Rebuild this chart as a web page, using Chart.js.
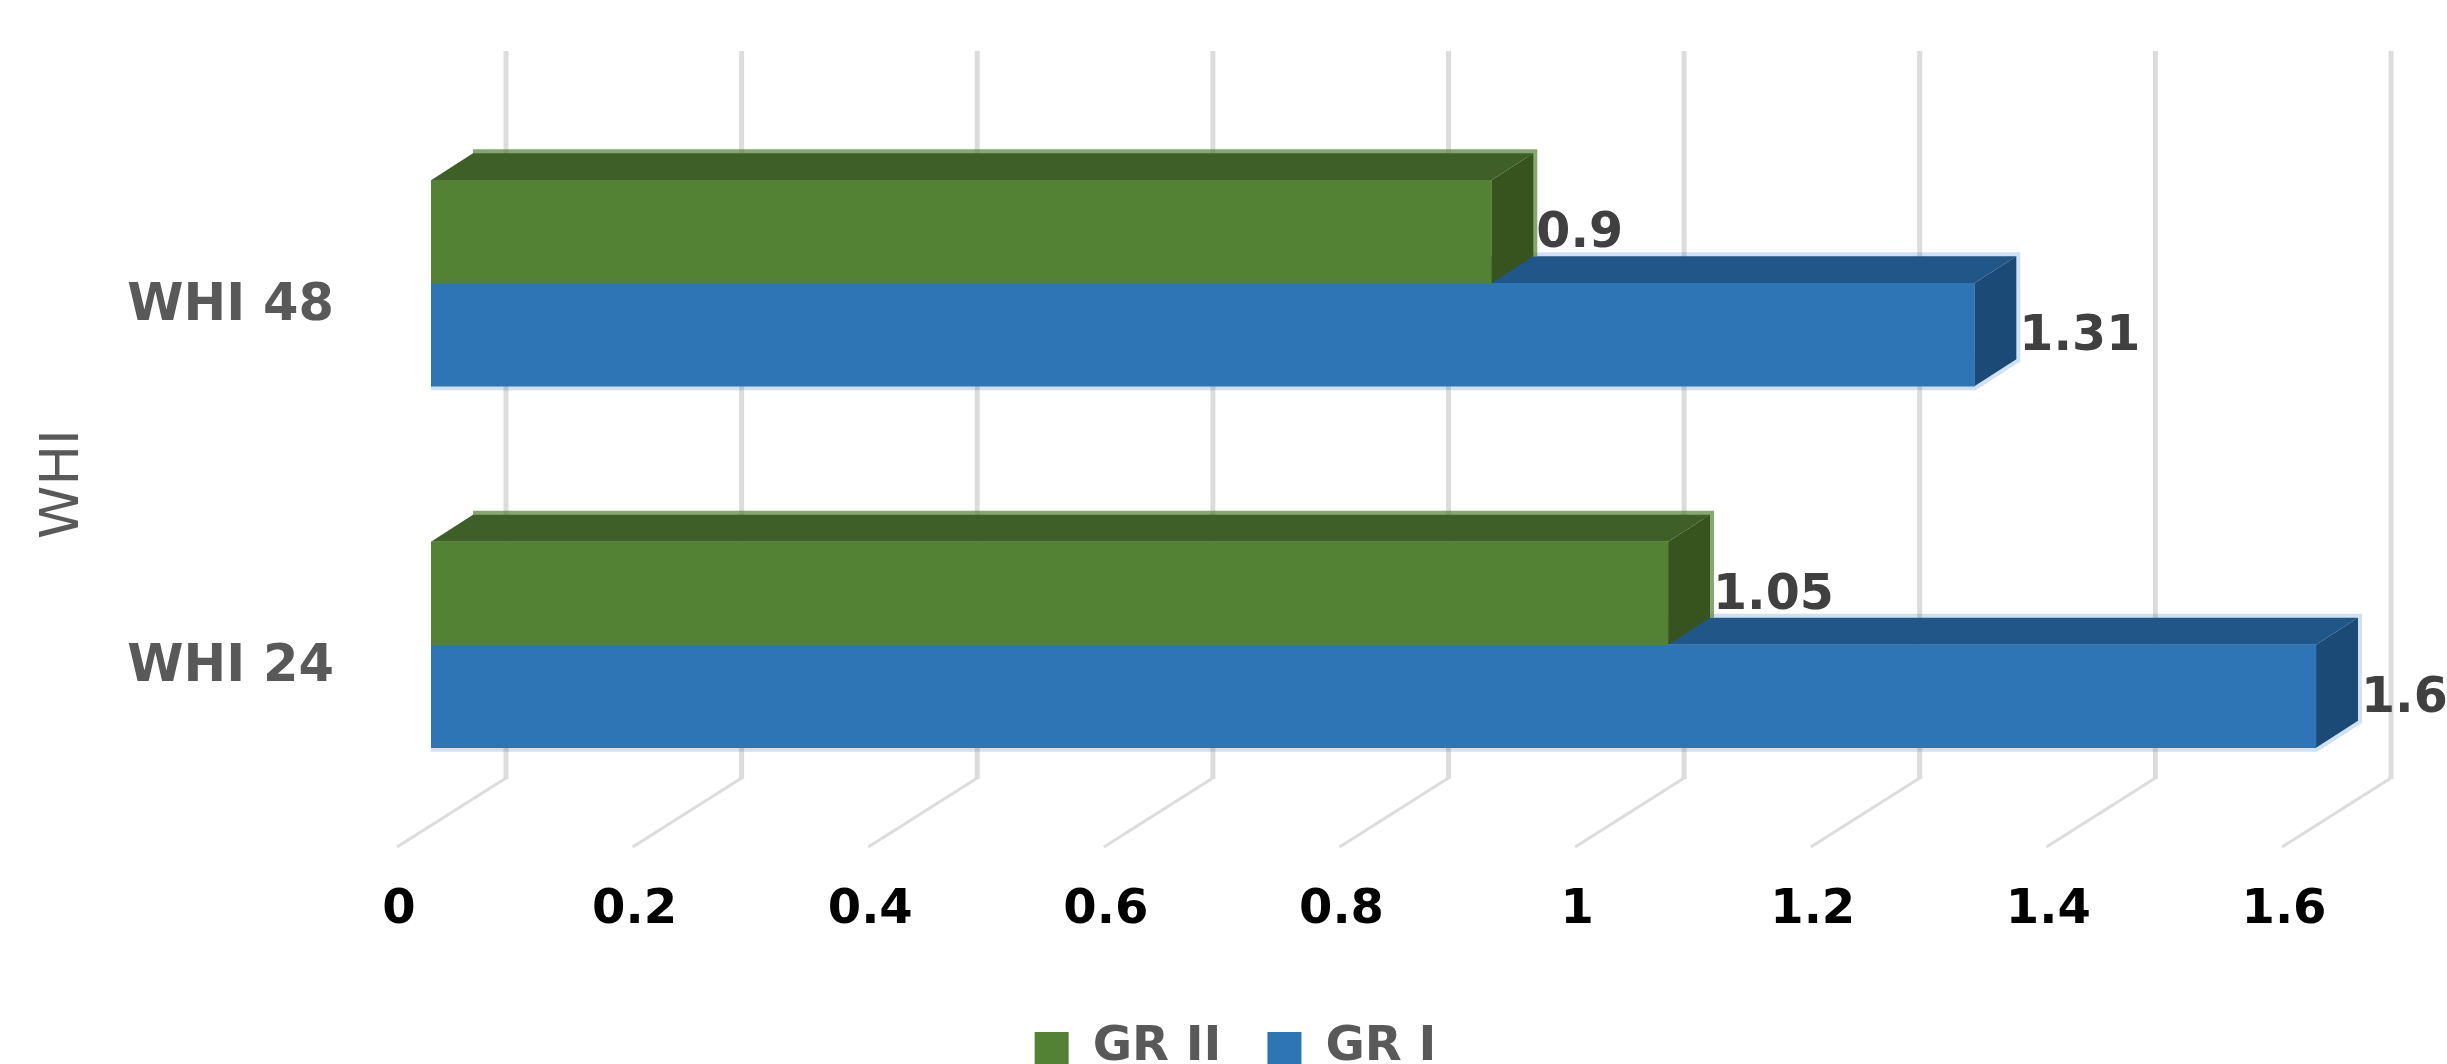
<!DOCTYPE html>
<html>
<head>
<meta charset="utf-8">
<title>WHI</title>
<script src="https://cdn.jsdelivr.net/npm/chart.js@4"></script>
<style>
  html, body { margin: 0; padding: 0; background: #fff; }
  canvas { display: block; }
</style>
</head>
<body>
<canvas id="whiChart" width="2447" height="1064"></canvas>
<script>
var categories = ['WHI 48', 'WHI 24'];
var grTwoValues = [0.9, 1.05];
var grOneValues = [1.31, 1.6];
var xTickValues = [0, 0.2, 0.4, 0.6, 0.8, 1, 1.2, 1.4, 1.6];
var xTickLabels = ['0', '0.2', '0.4', '0.6', '0.8', '1', '1.2', '1.4', '1.6'];

// 3d look, the same offsets the original chart uses
var depthX = 42;
var depthY = 27;
var faces = [
    { top: '#3f5f28', side: '#37541f', halo: 'rgba(84,130,53,0.7)', closed: false },
    { top: '#215788', side: '#1c4a76', halo: 'rgba(46,117,182,0.22)', closed: true }
];

var walls = {
    id: 'walls',
    beforeDatasetsDraw: function(chart) {
        var ctx = chart.ctx;
        var x = chart.scales.x;
        ctx.save();
        ctx.strokeStyle = '#dcdcdc';
        x.ticks.forEach(function(t, i) {
            var px = x.getPixelForTick(i) + 75;
            ctx.lineWidth = 5;
            ctx.beginPath();
            ctx.moveTo(px, 51);
            ctx.lineTo(px, 779);
            ctx.stroke();
            ctx.lineWidth = 3;
            ctx.beginPath();
            ctx.moveTo(px, 778);
            ctx.lineTo(px - 109, 847);
            ctx.stroke();
        });

        // blue first, green side face sits on top of it
        for (var d = 1; d >= 0; d--) {
            var f = faces[d];
            chart.getDatasetMeta(d).data.forEach(function(bar) {
                var x0 = bar.base, x1 = bar.x;
                var y0 = bar.y - bar.height / 2, y1 = bar.y + bar.height / 2;

                ctx.strokeStyle = f.halo;
                ctx.lineWidth = 8;
                ctx.beginPath();
                ctx.moveTo(x0 + depthX, y0 - depthY);
                ctx.lineTo(x1 + depthX, y0 - depthY);
                ctx.lineTo(x1 + depthX, y1 - depthY);
                if (f.closed) {
                    ctx.lineTo(x1, y1);
                    ctx.lineTo(x0, y1);
                }
                ctx.stroke();

                ctx.fillStyle = f.top;
                ctx.beginPath();
                ctx.moveTo(x0, y0);
                ctx.lineTo(x0 + depthX, y0 - depthY);
                ctx.lineTo(x1 + depthX, y0 - depthY);
                ctx.lineTo(x1, y0);
                ctx.closePath();
                ctx.fill();

                ctx.fillStyle = f.side;
                ctx.beginPath();
                ctx.moveTo(x1, y0);
                ctx.lineTo(x1 + depthX, y0 - depthY);
                ctx.lineTo(x1 + depthX, y1 - depthY);
                ctx.lineTo(x1, y1);
                ctx.closePath();
                ctx.fill();
            });
        }
        ctx.restore();
    },
    afterDatasetsDraw: function(chart) {
        var ctx = chart.ctx;
        ctx.save();
        ctx.font = 'bold 49px "DejaVu Sans"';
        ctx.fillStyle = '#404040';
        ctx.textAlign = 'left';
        ctx.textBaseline = 'middle';
        chart.data.datasets.forEach(function(ds, d) {
            chart.getDatasetMeta(d).data.forEach(function(bar, i) {
                ctx.fillText(String(ds.data[i]), bar.x + depthX + 3, bar.y + 3);
            });
        });

        // axis title sits lower than the centre of the scale
        ctx.translate(64, 484);
        ctx.rotate(-Math.PI / 2);
        ctx.font = '54px "DejaVu Sans"';
        ctx.fillStyle = '#595959';
        ctx.textAlign = 'center';
        ctx.fillText('WHI', 0, 0);
        ctx.restore();
    }
};

new Chart(document.getElementById('whiChart').getContext('2d'), {
    type: 'bar',
    plugins: [walls],
    data: {
        labels: categories,
        datasets: [
            { label: 'GR II', data: grTwoValues, backgroundColor: '#548235', barThickness: 103 },
            { label: 'GR I', data: grOneValues, backgroundColor: '#2e75b6', barThickness: 103 }
        ]
    },
    options: {
        indexAxis: 'y',
        responsive: false,
        animation: false,
        layout: { padding: { top: 102.5, right: 0, left: 24, bottom: -18 } },
        plugins: {
            tooltip: { enabled: false },
            legend: {
                position: 'bottom',
                labels: {
                    boxWidth: 34,
                    boxHeight: 32,
                    padding: 46,
                    color: '#595959',
                    font: { family: '"DejaVu Sans"', size: 48, weight: 'bold' }
                }
            }
        },
        scales: {
            x: {
                min: 0,
                max: 1.7112,
                grid: { display: false },
                border: { display: false },
                afterFit: function(scale) { scale.height = 152.5; },
                // axis runs on past the last tick, the labels stop at 1.6
                afterBuildTicks: function(scale) {
                    scale.ticks = xTickValues.map(function(v) { return { value: v }; });
                },
                ticks: {
                    maxRotation: 0,
                    autoSkip: false,
                    padding: 48,
                    labelOffset: -32,
                    color: '#000',
                    font: { family: '"DejaVu Sans"', size: 48, weight: 'bold' },
                    callback: function(v, i) { return xTickLabels[i]; }
                }
            },
            y: {
                // tickLength moves the labels off the axis, ticks.padding would also eat the top of the area
                grid: { display: false, tickLength: 97 },
                border: { display: false },
                afterFit: function(scale) { scale.width = 407; },
                ticks: {
                    padding: 0,
                    labelOffset: 23,
                    color: '#595959',
                    font: { family: '"DejaVu Sans"', size: 51, weight: 'bold' }
                }
            }
        }
    }
});
</script>
</body>
</html>
